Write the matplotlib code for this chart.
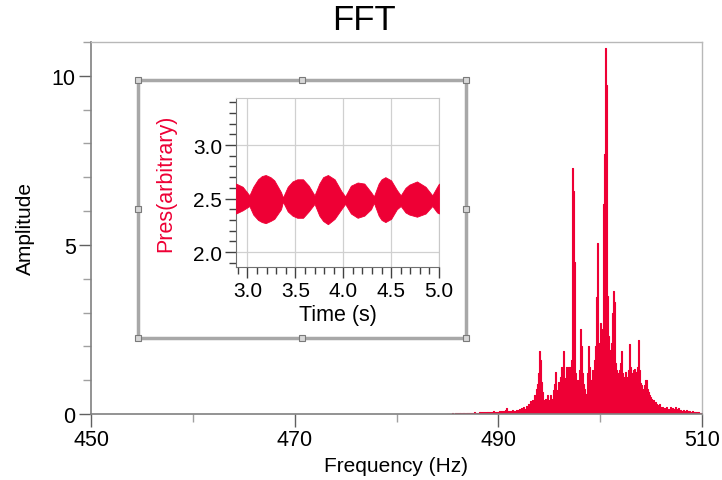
import numpy as np
import matplotlib
matplotlib.use("Agg")
import matplotlib.pyplot as plt
from matplotlib.ticker import MultipleLocator, FixedLocator, FormatStrFormatter

plt.rcParams['font.family'] = ['Liberation Sans', 'DejaVu Sans']

# ---------------- data ----------------
freq_start = 485.0   # Hz, first bin
freq_step = 0.1      # Hz, bin width
amplitude = [
    0.00, 0.00, 0.01, 0.00, 0.01, 0.02, 0.00, 0.01, 0.02, 0.01,   # 485
    0.02, 0.01, 0.02, 0.03, 0.01, 0.02, 0.03, 0.02, 0.01, 0.03,   # 486
    0.03, 0.02, 0.04, 0.03, 0.02, 0.04, 0.03, 0.05, 0.03, 0.04,   # 487
    0.04, 0.03, 0.05, 0.04, 0.06, 0.04, 0.05, 0.03, 0.06, 0.05,   # 488
    0.05, 0.07, 0.04, 0.06, 0.05, 0.08, 0.06, 0.05, 0.07, 0.06,   # 489
    0.06, 0.08, 0.07, 0.10, 0.06, 0.09, 0.07, 0.12, 0.17, 0.10,   # 490
    0.08, 0.06, 0.09, 0.07, 0.11, 0.08, 0.10, 0.07, 0.12, 0.09,   # 491
    0.11, 0.15, 0.10, 0.18, 0.13, 0.22, 0.16, 0.14, 0.25, 0.20,   # 492
    0.30, 0.22, 0.38, 0.27, 0.42, 0.35, 0.55, 0.75, 0.90, 1.20,   # 493
    1.87, 1.60, 0.95, 0.65, 0.40, 0.25, 0.45, 0.35, 0.55, 0.40,   # 494
    0.30, 0.55, 0.25, 0.45, 0.70, 0.90, 1.23, 0.55, 0.70, 0.95,   # 495
    0.80, 1.10, 1.40, 0.95, 1.87, 1.05, 1.00, 1.40, 1.30, 1.40,   # 496
    1.40, 0.90, 1.60, 7.28, 6.60, 4.50, 1.20, 0.75, 1.00, 0.90,   # 497
    1.30, 2.50, 2.00, 1.20, 0.90, 0.75, 0.60, 0.45, 1.20, 2.00,   # 498
    1.40, 1.00, 1.30, 1.13, 1.60, 2.00, 3.45, 5.06, 2.10, 1.90,   # 499
    2.70, 2.10, 2.50, 6.20, 7.70, 10.82, 9.73, 3.50, 2.30, 1.90,  # 500
    1.50, 2.10, 3.00, 3.64, 3.30, 1.50, 1.30, 1.20, 1.10, 1.30,   # 501
    1.50, 1.87, 1.20, 0.93, 1.10, 1.23, 0.93, 1.10, 1.30, 2.07,   # 502
    1.40, 1.13, 1.20, 1.30, 1.33, 1.25, 1.23, 1.40, 2.20, 1.30,   # 503
    0.93, 0.85, 0.75, 0.70, 0.85, 1.00, 0.75, 0.65, 0.55, 0.50,   # 504
    0.45, 0.40, 0.42, 0.36, 0.35, 0.30, 0.28, 0.25, 0.30, 0.22,   # 505
    0.15, 0.20, 0.12, 0.18, 0.14, 0.22, 0.13, 0.16, 0.12, 0.20,   # 506
    0.10, 0.18, 0.12, 0.15, 0.20, 0.10, 0.14, 0.18, 0.09, 0.12,   # 507
    0.08, 0.10, 0.12, 0.07, 0.09, 0.11, 0.06, 0.08, 0.10, 0.07,   # 508
    0.06, 0.08, 0.05, 0.07, 0.06, 0.05, 0.04, 0.06, 0.04, 0.03,   # 509
]
freq = freq_start + freq_step * np.arange(len(amplitude))

freq_major_ticks = [450, 470, 490, 510]
freq_minor_ticks = [460, 480, 500]

# inset: pressure envelope (upper / lower) vs time
time_s = [2.88, 2.95, 3.02, 3.06, 3.11, 3.15, 3.19, 3.24, 3.28, 3.35, 3.37,
          3.42, 3.47, 3.52, 3.58, 3.64, 3.70, 3.75, 3.79, 3.84, 3.91, 3.98,
          4.02, 4.08, 4.15, 4.22, 4.29, 4.32, 4.37, 4.40, 4.44, 4.50, 4.56,
          4.60, 4.65, 4.69, 4.77, 4.86, 4.93, 4.98, 5.00]
pres_upper = [2.64, 2.61, 2.53, 2.61, 2.68, 2.71, 2.72, 2.70, 2.67, 2.56, 2.51,
              2.61, 2.66, 2.68, 2.68, 2.62, 2.53, 2.64, 2.70, 2.72, 2.68, 2.57,
              2.52, 2.62, 2.65, 2.64, 2.56, 2.52, 2.64, 2.68, 2.70, 2.67, 2.58,
              2.53, 2.60, 2.63, 2.66, 2.61, 2.53, 2.61, 2.64]
pres_lower = [2.36, 2.39, 2.43, 2.35, 2.30, 2.28, 2.27, 2.29, 2.31, 2.40, 2.47,
              2.38, 2.34, 2.32, 2.32, 2.38, 2.45, 2.34, 2.29, 2.26, 2.31, 2.40,
              2.45, 2.36, 2.32, 2.34, 2.40, 2.46, 2.34, 2.30, 2.28, 2.31, 2.40,
              2.43, 2.37, 2.35, 2.33, 2.36, 2.43, 2.37, 2.36]

# ---------------- styling ----------------
RED = '#EE0035'
W, H = 722, 481
fig = plt.figure(figsize=(W / 100, H / 100), dpi=100)

def rect(l, t, r, b):
    return [l / W, 1 - b / H, (r - l) / W, (b - t) / H]

# main axes
ax = fig.add_axes(rect(91, 43, 702, 415))
ax.fill_between(freq, amplitude, 0, step='mid', color=RED, linewidth=0)
ax.step(freq, amplitude, where='mid', color=RED, linewidth=0.8)
ax.set_xlim(450, 510)
ax.set_ylim(0, 11)
ax.xaxis.set_major_locator(FixedLocator(freq_major_ticks))
ax.xaxis.set_minor_locator(FixedLocator(freq_minor_ticks))
ax.yaxis.set_major_locator(MultipleLocator(5))
ax.yaxis.set_minor_locator(MultipleLocator(1))
ax.tick_params(which='major', length=9, width=1, color='#606060', labelsize=15.5, pad=2)
ax.tick_params(which='minor', length=6, width=1, color='#a0a0a0')
for s in ['left', 'bottom']:
    ax.spines[s].set_color('#808080')
    ax.spines[s].set_linewidth(1.2)
for s in ['top', 'right']:
    ax.spines[s].set_color('#b8b8b8')
    ax.spines[s].set_linewidth(1.0)
ax.set_xlabel('Frequency (Hz)', fontsize=15, labelpad=4)
ax.set_ylabel('Amplitude', fontsize=15, labelpad=12)
fig.text(364 / W, 1 - 4 / H, 'FFT', ha='center', va='top', fontsize=25)

# inset frame
fr = fig.add_axes(rect(138, 81, 466, 339))
fr.set_facecolor('white')
fr.set_xticks([])
fr.set_yticks([])
for s in fr.spines.values():
    s.set_color('#a8a8a8')
    s.set_linewidth(2.5)
hx = [0, 0.5, 1, 0, 1, 0, 0.5, 1]
hy = [0, 0, 0, 0.5, 0.5, 1, 1, 1]
fr.plot(hx, hy, 's', transform=fr.transAxes, clip_on=False, markersize=5,
        markerfacecolor='#d8d8d8', markeredgecolor='#7a7a7a', markeredgewidth=0.8,
        zorder=10)

# inset plot
ins = fig.add_axes(rect(236, 99, 439, 268))
ins.fill_between(time_s, pres_upper, pres_lower, color=RED, linewidth=0.6,
                 edgecolor=RED, zorder=3)
ins.set_xlim(2.88, 5.0)
ins.set_ylim(1.86, 3.44)
ins.xaxis.set_major_locator(MultipleLocator(0.5))
ins.xaxis.set_minor_locator(MultipleLocator(0.1))
ins.yaxis.set_major_locator(MultipleLocator(0.5))
ins.yaxis.set_minor_locator(MultipleLocator(0.1))
ins.xaxis.set_major_formatter(FormatStrFormatter('%.1f'))
ins.yaxis.set_major_formatter(FormatStrFormatter('%.1f'))
ins.grid(True, which='major', color='#d0d0d0', linewidth=0.9, zorder=0)
ins.tick_params(which='major', length=8, width=1, color='#404040', labelsize=15, pad=2)
ins.tick_params(which='minor', length=5, width=1, color='#404040')
for s in ['left', 'bottom']:
    ins.spines[s].set_color('#707070')
for s in ['top', 'right']:
    ins.spines[s].set_color('#c8c8c8')
ins.set_xlabel('Time (s)', fontsize=15.5, labelpad=3)
ins.set_ylabel('Pres(arbitrary)', fontsize=15.5, color=RED, labelpad=12)

fig.savefig('out.png', dpi=100)
